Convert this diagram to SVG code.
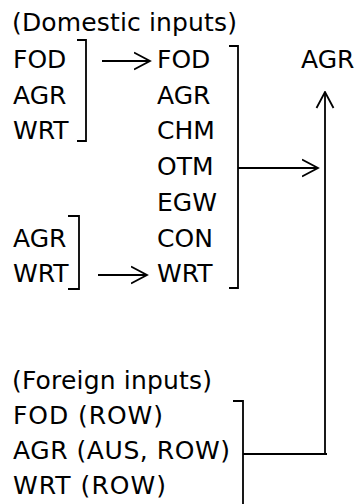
<svg xmlns="http://www.w3.org/2000/svg" width="360" height="504" viewBox="0 0 360 504">
<style>
text{font-family:"DejaVu Sans","Noto Sans CJK JP",sans-serif;font-size:25px;fill:#000}
.ln{fill:none;stroke:#000;stroke-width:1.8}
</style>
<defs>
<marker id="ah" viewBox="0 0 18 20" refX="16.5" refY="10" markerWidth="18" markerHeight="20" markerUnits="userSpaceOnUse" orient="auto">
<path d="M0.5,1.5 L16.5,10 L0.5,18.5" fill="none" stroke="#000" stroke-width="1.8"/>
</marker>
</defs>
<rect width="360" height="504" fill="#fff"/>
<g id="title-domestic"><text x="12" y="31" textLength="225" lengthAdjust="spacing">(Domestic inputs)</text></g>
<g id="left-group-1">
<text x="13" y="68">FOD</text>
<text x="13" y="104">AGR</text>
<text x="13" y="139">WRT</text>
</g>
<g id="left-group-2">
<text x="13" y="247">AGR</text>
<text x="13" y="282">WRT</text>
</g>
<g id="middle-group">
<text x="157" y="68">FOD</text>
<text x="157" y="104">AGR</text>
<text x="157" y="139">CHM</text>
<text x="157" y="175">OTM</text>
<text x="157" y="211">EGW</text>
<text x="157" y="247">CON</text>
<text x="157" y="282">WRT</text>
</g>
<g id="agr-target"><text x="301" y="68">AGR</text></g>
<g id="title-foreign"><text x="12" y="389" textLength="200" lengthAdjust="spacing">(Foreign inputs)</text></g>
<g id="foreign-group">
<text x="13" y="424" textLength="150" lengthAdjust="spacing">FOD (ROW)</text>
<text x="13" y="459" textLength="217" lengthAdjust="spacing">AGR (AUS, ROW)</text>
<text x="13" y="494" textLength="153" lengthAdjust="spacing">WRT (ROW)</text>
</g>
<g id="connectors">
<path class="ln" d="M77,40 H86 V141 H77"/>
<path class="ln" d="M68,216 H79 V289 H68"/>
<path class="ln" d="M229,46 H238 V288 H229"/>
<path class="ln" d="M233,401 H243 V504"/>
<path class="ln" d="M102,61 H150" marker-end="url(#ah)"/>
<path class="ln" d="M98,275 H147" marker-end="url(#ah)"/>
<path class="ln" d="M238,168 H318" marker-end="url(#ah)"/>
<path class="ln" d="M243,454 H327"/>
<path class="ln" d="M325,454 V92" marker-end="url(#ah)"/>
</g>
</svg>
